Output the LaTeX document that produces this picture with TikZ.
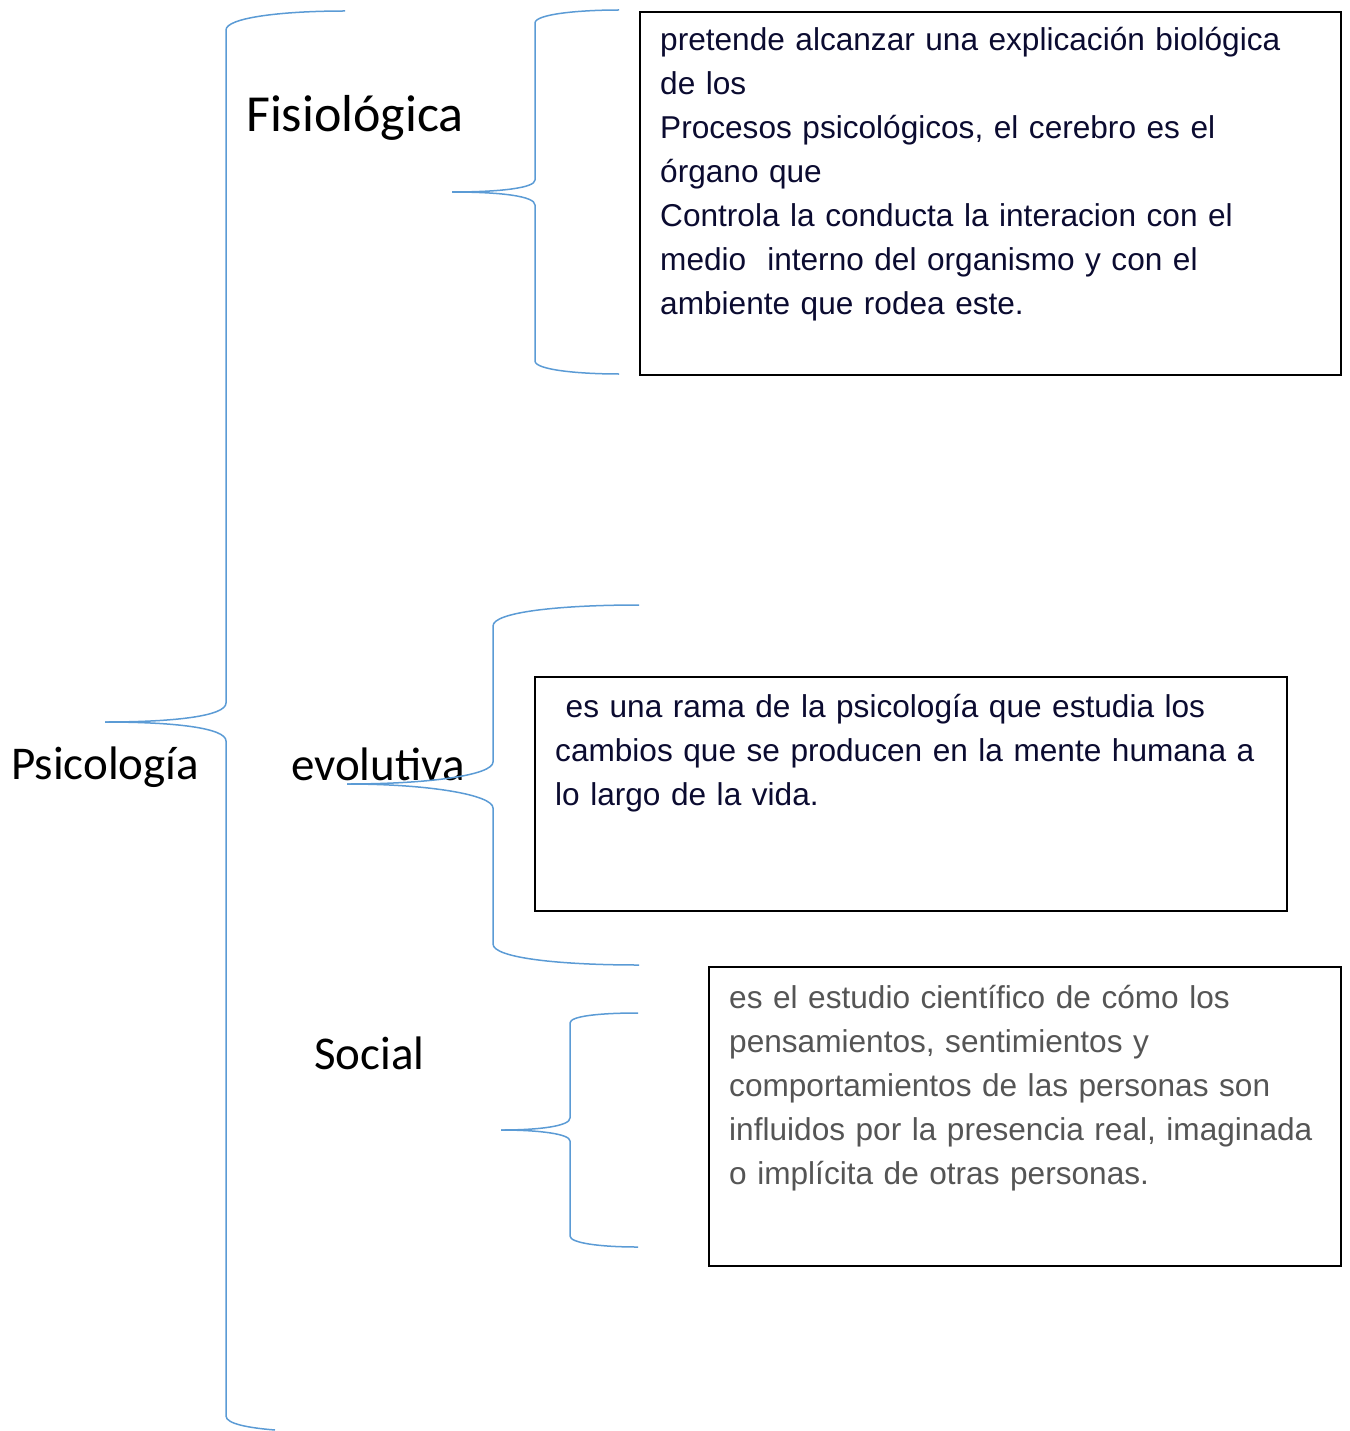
\documentclass[tikz,border=0pt]{standalone}
\usepackage{fontspec}
\setmainfont{Liberation Sans}
\newfontfamily\calib{Carlito}
\definecolor{bracecol}{HTML}{5B9BD5}
\definecolor{navy}{HTML}{0B0B30}
\definecolor{greytext}{HTML}{555555}
\begin{document}
\begin{tikzpicture}[x=1pt,y=-1pt,
  bracel/.style={draw=bracecol, line width=1.5pt},
  lbl/.style={font=\calib\fontsize{47}{52}\selectfont, anchor=base west, inner sep=0pt},
  boxr/.style={draw=black, line width=1.6pt, anchor=north west, inner sep=0pt},
  boxtext/.style={font=\fontsize{31.6}{44}\selectfont, anchor=base west, inner sep=0pt, align=left, text width=760pt}]
\useasboundingbox (0,0) rectangle (1349,1431);

% labels
\node[lbl] (psi) at (11,779) {Psicología};
\node[lbl, font=\calib\fontsize{52}{56}\selectfont] (fis) at (246,132) {Fisiológica};
\node[lbl] (evo) at (291,780) {evolutiva};
\node[lbl] (soc) at (314,1069) {Social};

% boxes
\node[boxr, minimum width=701pt, minimum height=363pt] (b1) at (639,11) {};
\node[boxr, minimum width=752pt, minimum height=234pt] (b2) at (534,676) {};
\node[boxr, minimum width=632pt, minimum height=299pt] (b3) at (708,966) {};

\node[boxtext, text=navy] (t1) at (660,51) {pretende alcanzar una explicación biológica\\de los\\Procesos psicológicos, el cerebro es el\\órgano que\\Controla la conducta la interacion con el\\medio\ \ interno del organismo y con el\\ambiente que rodea este.};
\node[boxtext, text=navy] (t2) at (555,717) {\ es una rama de la psicología que estudia los\\cambios que se producen en la mente humana a\\lo largo de la vida.};
\node[boxtext, text=greytext] (t3) at (729,1008) {es el estudio científico de cómo los\\pensamientos, sentimientos y\\comportamientos de las personas son\\influidos por la presencia real, imaginada\\o implícita de otras personas.};

% brace coordinates
\coordinate (p0) at (105,722);
\coordinate (p1) at (345,11);
\coordinate (p2) at (275,1430);
\coordinate (f0) at (452,192);
\coordinate (f1) at (619,10);
\coordinate (f2) at (619,374);
\coordinate (e0) at (347,784);
\coordinate (e1) at (639,605);
\coordinate (e2) at (639,965);
\coordinate (s0) at (501,1130);
\coordinate (s1) at (638,1013);
\coordinate (s2) at (638,1247);

% main brace
\draw[bracel] (p0) .. controls (175,722) and (226,716) .. (226,703) -- (226,30) .. controls (226,18) and (280,11) .. (p1);
\draw[bracel] (p0) .. controls (175,722) and (226,728) .. (226,741) -- (226,1416) .. controls (226,1424) and (250,1428) .. (p2);

% Fisiologica brace
\draw[bracel] (f0) .. controls (500,192) and (535,188) .. (535,180) -- (535,23) .. controls (535,14) and (580,10) .. (f1);
\draw[bracel] (f0) .. controls (500,192) and (535,196) .. (535,205) -- (535,361) .. controls (535,370) and (580,374) .. (f2);

% evolutiva brace
\draw[bracel] (e0) .. controls (430,784) and (493,775) .. (493,762) -- (493,626) .. controls (493,612) and (560,605) .. (e1);
\draw[bracel] (e0) .. controls (430,784) and (493,795) .. (493,808) -- (493,944) .. controls (493,958) and (560,965) .. (e2);

% Social brace
\draw[bracel] (s0) .. controls (540,1130) and (570,1126) .. (570,1118) -- (570,1023) .. controls (570,1016) and (600,1013) .. (s1);
\draw[bracel] (s0) .. controls (540,1130) and (570,1134) .. (570,1141) -- (570,1236) .. controls (570,1243) and (600,1247) .. (s2);
\end{tikzpicture}
\end{document}
